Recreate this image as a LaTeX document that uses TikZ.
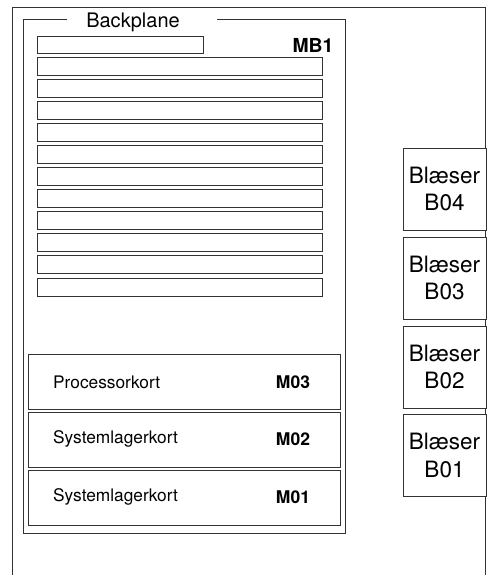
\documentclass[tikz,border=0pt]{standalone}
\usepackage{fontspec}
\setmainfont{TeX Gyre Heros}
\begin{document}
\begin{tikzpicture}[x=1pt,y=-1pt,
  frameline/.style={draw=black!80,line width=0.9pt},
  bar/.style={frameline,rectangle,inner sep=0pt,outer sep=0pt,minimum height=18pt,minimum width=285pt},
  card/.style={frameline,rectangle,inner sep=0pt,outer sep=0pt,minimum height=55pt,minimum width=312pt},
  fan/.style={frameline,rectangle,fill=white,inner sep=0pt,outer sep=0pt,minimum height=82pt,minimum width=83pt,align=center,font=\fontsize{22.5}{27.5}\selectfont},
  cardlabel/.style={anchor=west,inner sep=0pt,font=\fontsize{17.3}{20}\selectfont},
  cardid/.style={anchor=center,inner sep=0pt,font=\fontsize{17.5}{20}\selectfont\bfseries}]
\useasboundingbox (0,0) rectangle (488,575);
% outer frame (open at bottom)
\coordinate (oBL) at (12,575);
\coordinate (oTL) at (12,7);
\coordinate (oTR) at (485,7);
\coordinate (oBR) at (485,575);
\draw[frameline] (oBL) -- (oTL) -- (oTR) -- (oBR);
% backplane frame with title gap
\coordinate (bA) at (67,19);
\coordinate (bTL) at (23,19);
\coordinate (bBL) at (23,533);
\coordinate (bBR) at (345,533);
\coordinate (bTR) at (345,19);
\coordinate (bB) at (217,19);
\draw[frameline] (bA) -- (bTL) -- (bBL) -- (bBR) -- (bTR) -- (bB);
\node[inner sep=0pt,font=\fontsize{20}{24}\selectfont] (title) at (133,22) {Backplane};
% slots
\node[bar,minimum width=166pt,minimum height=17pt] (s0) at (120,44.5) {};
\node[inner sep=0pt,font=\fontsize{19.3}{22}\selectfont\bfseries] (mb1) at (313,45) {MB1};
\foreach \i in {0,...,10} {
  \node[bar] (s\i b) at (179.5,{66+22.1*\i}) {};
}
% cards
\node[card] (m03) at (184,381.5) {};
\node[card] (m02) at (184,439.5) {};
\node[card] (m01) at (184,497.5) {};
\node[cardlabel] (l03) at (53,382) {Processorkort};
\node[cardlabel] (l02) at (53,439) {Systemlagerkort};
\node[cardlabel] (l01) at (53,497) {Systemlagerkort};
\node[cardid] (i03) at (293,382) {M03};
\node[cardid] (i02) at (293,439.5) {M02};
\node[cardid] (i01) at (293,497.5) {M01};
% fans
\node[fan] (b04) at (444.5,189) {Blæser\\B04};
\node[fan] (b03) at (444.5,278) {Blæser\\B03};
\node[fan] (b02) at (444.5,367) {Blæser\\B02};
\node[fan] (b01) at (444.5,455.5) {Blæser\\B01};
\end{tikzpicture}
\end{document}
